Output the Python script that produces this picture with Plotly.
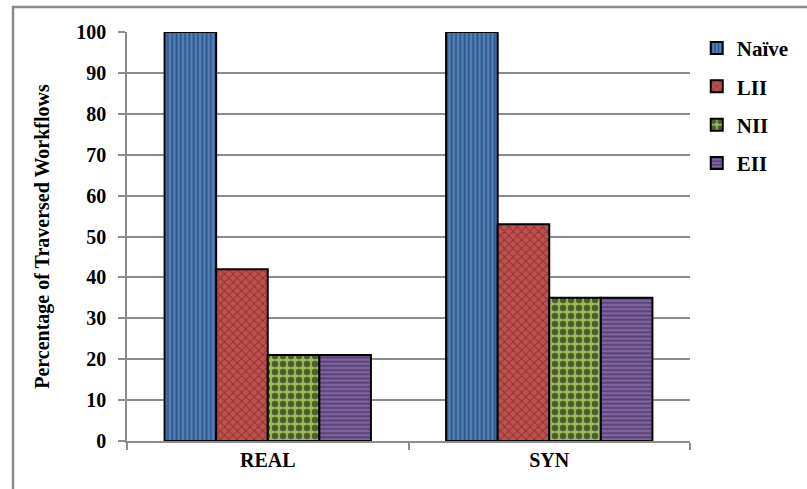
import plotly.graph_objects as go

# Datasets and indexing methods
categories = ["REAL", "SYN"]
methods = ["Naïve", "LII", "NII", "EII"]
naive_pct = [100, 100]
lii_pct = [42, 53]
nii_pct = [21, 35]
eii_pct = [21, 35]

series = [naive_pct, lii_pct, nii_pct, eii_pct]

# Fill style per method: base colour, pattern ink, pattern shape, period, solidity
styles = [
    dict(bg="#4F81BD", fg="#1B2E4B", shape="|", size=4.3, solidity=0.45),
    dict(bg="#C0504D", fg="#5E1A18", shape="x", size=6, solidity=0.3),
    dict(bg="#9BBB59", fg="#000000", shape=".", size=8, solidity=0.5),
    dict(bg="#8064A2", fg="#2F2142", shape="-", size=4.2, solidity=0.45),
]

FONT = "'Liberation Serif', 'Times New Roman', Times, serif"
GREY = "#8C8C8C"

fig = go.Figure()
for name, vals, st in zip(methods, series, styles):
    fig.add_trace(go.Bar(
        name=name,
        x=categories,
        y=vals,
        legendgroup=name,
        marker=dict(
            color=st["bg"],
            line=dict(color="#000000", width=2),
            pattern=dict(shape=st["shape"], fgcolor=st["fg"], bgcolor=st["bg"],
                         size=st["size"], solidity=st["solidity"], fillmode="overlay"),
        ),
    ))

fig.update_layout(
    width=807,
    height=489,
    margin=dict(l=127, r=117, t=32, b=48),
    paper_bgcolor="white",
    plot_bgcolor="white",
    barmode="group",
    bargap=0.267,
    bargroupgap=0,
    font=dict(family=FONT, size=20, color="#000000", weight="bold"),
    showlegend=True,
    legend=dict(
        x=1.012, y=1.01, xanchor="left", yanchor="top",
        font=dict(family=FONT, size=21, color="#000000", weight="bold"),
        tracegroupgap=8,
        itemwidth=30,
        bgcolor="rgba(0,0,0,0)",
    ),
    xaxis=dict(
        type="category",
        showgrid=False,
        showline=True, linecolor=GREY, linewidth=1.5,
        ticks="outside", ticklen=7, tickcolor=GREY, tickwidth=1.5,
        tickson="boundaries",
        tickfont=dict(family=FONT, size=20, color="#000000", weight="bold"),
    ),
    yaxis=dict(
        range=[0, 100],
        dtick=10,
        showgrid=True, gridcolor=GREY, gridwidth=1.5,
        showline=True, linecolor=GREY, linewidth=1.5,
        ticks="outside", ticklen=7, tickcolor=GREY, tickwidth=1.5,
        ticklabelstandoff=8,
        zeroline=False,
        tickfont=dict(family=FONT, size=20, color="#000000", weight="bold"),
        title=dict(text="Percentage of Traversed Workflows",
                   font=dict(family=FONT, size=20, color="#000000", weight="bold"),
                   standoff=21),
    ),
)

# Chart area frame
fig.add_shape(type="rect", xref="paper", yref="paper",
              x0=-0.2025, x1=1.4, y0=-0.3, y1=1.061,
              line=dict(color="#8A8A8A", width=2.5), fillcolor="rgba(0,0,0,0)",
              layer="below")

fig.write_html("out.html")
